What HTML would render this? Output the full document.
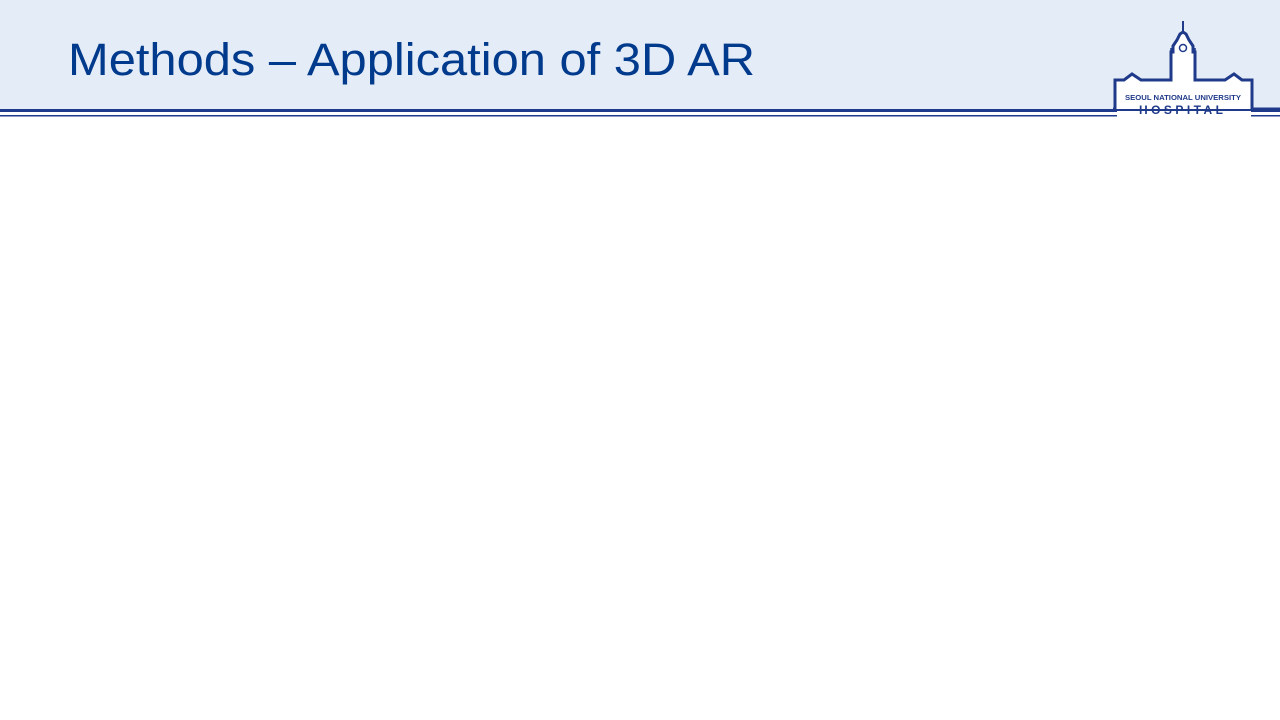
<!DOCTYPE html>
<html><head><meta charset="utf-8"><style>
html,body{margin:0;padding:0;background:#fff;width:1280px;height:720px;overflow:hidden}
</style></head><body>
<svg width="1280" height="720" viewBox="0 0 1280 720" xmlns="http://www.w3.org/2000/svg">
<rect x="0" y="0" width="1280" height="109" fill="#e4ecf7"/>
<rect x="0" y="109" width="1280" height="3" fill="#1f3a8a"/>
<rect x="0" y="115" width="1280" height="1.5" fill="#1f3a8a"/>
<text x="68" y="75" font-family="Liberation Sans, sans-serif" font-size="45" fill="#003a8c" textLength="687" lengthAdjust="spacingAndGlyphs">Methods – Application of 3D AR</text>
<!-- logo -->
<polygon points="1115,109 1115,80 1124,80 1132,74 1141,80 1171,80 1171,52 1173,52 1173,46 1177,40 1180,34 1183,32 1186,34 1189,40 1193,46 1193,52 1195,52 1195,80 1225,80 1234,74 1242,80 1252,80 1252,109" fill="#fff"/>
<polyline points="1113,109 1115,109 1115,80 1124,80 1132,74 1141,80 1171,80 1171,52 1173,52 1173,46 1177,40 1180,34 1183,32 1186,34 1189,40 1193,46 1193,52 1195,52 1195,80 1225,80 1234,74 1242,80 1252,80 1252,109 1280,109" fill="none" stroke="#1f3a8a" stroke-width="3"/>
<rect x="1117" y="111" width="134" height="9" fill="#fff"/>
<line x1="1183" y1="21" x2="1183" y2="32" stroke="#1f3a8a" stroke-width="2"/>
<circle cx="1183" cy="48" r="3.5" fill="none" stroke="#1f3a8a" stroke-width="1.5"/>
<line x1="1171" y1="48" x2="1171" y2="54" stroke="#1f3a8a" stroke-width="1.5"/>
<line x1="1195" y1="48" x2="1195" y2="54" stroke="#1f3a8a" stroke-width="1.5"/>
<text x="1183" y="100" text-anchor="middle" font-family="Liberation Sans, sans-serif" font-weight="bold" font-size="7.5" fill="#1f3a8a" textLength="116" lengthAdjust="spacingAndGlyphs">SEOUL NATIONAL UNIVERSITY</text>
<text x="1183" y="114" text-anchor="middle" font-family="Liberation Sans, sans-serif" font-weight="bold" font-size="12" fill="#1f3a8a" letter-spacing="4" textLength="88">HOSPITAL</text>
</svg>
</body></html>
